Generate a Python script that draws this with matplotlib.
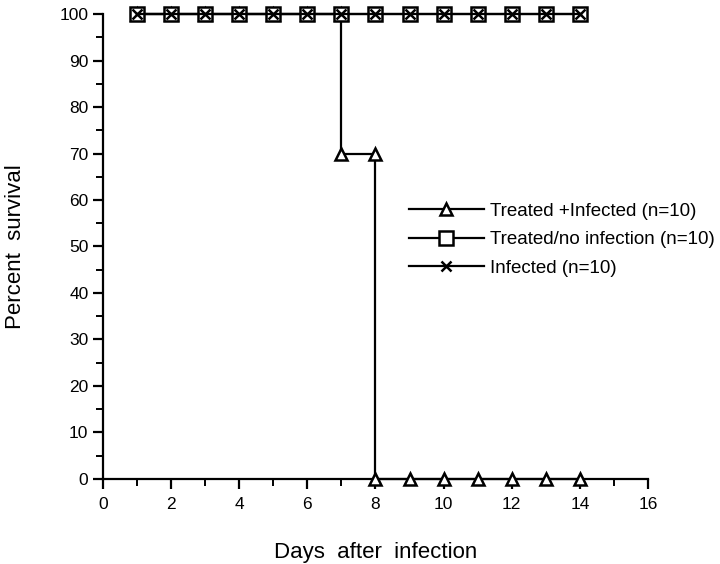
import matplotlib
matplotlib.use("Agg")
import matplotlib.pyplot as plt
from matplotlib.ticker import MultipleLocator

plt.rcParams['font.family'] = ['Liberation Sans', 'DejaVu Sans']

# survival data
days_ti = [1, 2, 3, 4, 5, 6, 7, 7, 8, 8, 9, 10, 11, 12, 13, 14]
surv_ti = [100, 100, 100, 100, 100, 100, 100, 70, 70, 0, 0, 0, 0, 0, 0, 0]
days_tn = [1, 2, 3, 4, 5, 6, 7, 8, 9, 10, 11, 12, 13, 14]
surv_tn = [100] * 14
days_inf = [1, 2, 3, 4, 5, 6, 7, 8, 9, 10, 11, 12, 13, 14]
surv_inf = [100] * 14

labels = ["Treated +Infected (n=10)", "Treated/no infection (n=10)", "Infected (n=10)"]

fig = plt.figure(figsize=(7.2, 5.64), dpi=100)
ax = fig.add_axes([0.143, 0.151, 0.757, 0.824])

ax.plot(days_ti, surv_ti, color='black', lw=1.6, marker='^', ms=9,
        mfc='white', mec='black', mew=1.8, label=labels[0], zorder=3, clip_on=False)
ax.plot(days_tn, surv_tn, color='black', lw=1.6, marker='s', ms=10,
        mfc='white', mec='black', mew=1.8, label=labels[1], zorder=4, clip_on=False)
ax.plot(days_inf, surv_inf, color='black', lw=1.6, marker='x', ms=7,
        mec='black', mew=1.8, label=labels[2], zorder=5, clip_on=False)

ax.set_xlim(0, 16)
ax.set_ylim(0, 100)
ax.xaxis.set_major_locator(MultipleLocator(2))
ax.xaxis.set_minor_locator(MultipleLocator(1))
ax.yaxis.set_major_locator(MultipleLocator(10))
ax.yaxis.set_minor_locator(MultipleLocator(5))
ax.spines['top'].set_visible(False)
ax.spines['right'].set_visible(False)
for s in ['left', 'bottom']:
    ax.spines[s].set_linewidth(1.6)
ax.tick_params(which='major', direction='out', length=7, width=1.6, labelsize=12.5)
ax.tick_params(which='minor', direction='out', length=5, width=1.4)
ax.tick_params(axis='x', pad=6)

ax.set_xlabel("Days  after  infection", fontsize=16, labelpad=22)
ax.set_ylabel("Percent  survival", fontsize=16, labelpad=24)

ax.legend(loc='upper left', bbox_to_anchor=(0.53, 0.63), frameon=False,
          fontsize=13.5, handlelength=4.0, handletextpad=0.35, labelspacing=0.6)

fig.savefig("out.png", dpi=100)
